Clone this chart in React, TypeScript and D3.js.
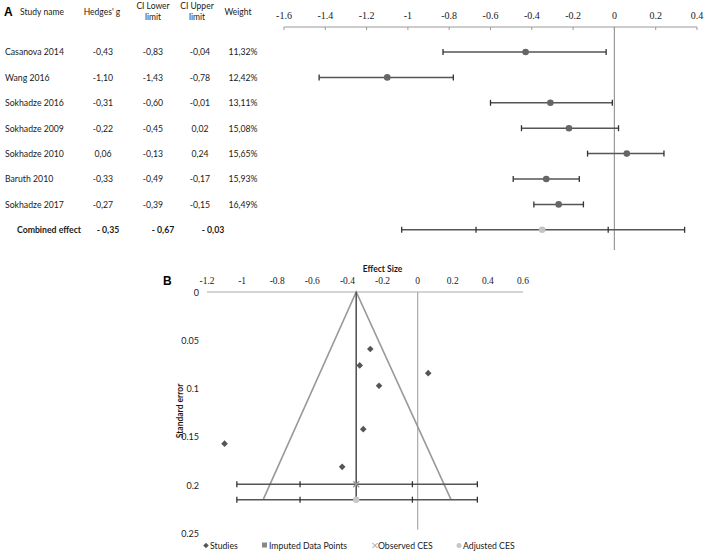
import React from "react";
import * as d3 from "d3";

const studyNames = ["Casanova 2014", "Wang 2016", "Sokhadze 2016", "Sokhadze 2009", "Sokhadze 2010", "Baruth 2010", "Sokhadze 2017"];
const hedgesG = [-0.43, -1.10, -0.31, -0.22, 0.06, -0.33, -0.27];
const ciLower = [-0.83, -1.43, -0.60, -0.45, -0.13, -0.49, -0.39];
const ciUpper = [-0.04, -0.78, -0.01, 0.02, 0.24, -0.17, -0.15];
const weights = ["11,32%", "12,42%", "13,11%", "15,08%", "15,65%", "15,93%", "16,49%"];
const combinedG = -0.35;
const combinedLower = -0.67;
const combinedUpper = -0.03;
const predLower = -1.03;
const predUpper = 0.34;
const combinedLabels = ["- 0,35", "- 0,67", "- 0,03"];
const forestTicks = [-1.6, -1.4, -1.2, -1, -0.8, -0.6, -0.4, -0.2, 0, 0.2, 0.4];

const funnelEffects = [-0.27, -0.33, 0.06, -0.22, -0.31, -1.10, -0.43];
const funnelSE = [0.059, 0.076, 0.084, 0.097, 0.142, 0.157, 0.181];
const observedSE = 0.199;
const adjustedSE = 0.215;
const funnelBottomSE = 0.215;
const funnelLeft = -0.88;
const funnelRight = 0.19;
const funnelXTicks = [-1.2, -1, -0.8, -0.6, -0.4, -0.2, 0, 0.2, 0.4, 0.6];
const funnelYTicks = [0, 0.05, 0.1, 0.15, 0.2, 0.25];
const legendItems = ["Studies", "Imputed Data Points", "Observed CES", "Adjusted CES"];

const sans = "Lato, 'Open Sans', sans-serif";
const serif = "'Liberation Serif', 'DejaVu Serif', serif";
const dark = "#555";
const ink = "#1a1a1a";

export default function App() {
  const xA = d3.scaleLinear().domain([-1.6, 0.4]).range([284, 697]);
  const yA = d3.scaleLinear().domain([0, 1]).range([52, 77.4]);
  const xB = d3.scaleLinear().domain([-1.2, 0.6]).range([207, 523]);
  const yB = d3.scaleLinear().domain([0, 0.25]).range([292, 533.5]);
  const fmt = (v: number) => (Math.round(v * 10) / 10).toString();

  const bar = (y: number, lo: number, hi: number, extraTicks: number[], key: string, x: any) => (
    <g key={key}>
      <line x1={x(lo)} x2={x(hi)} y1={y} y2={y} stroke={dark} strokeWidth={1.5} />
      {[lo, hi, ...extraTicks].map((t, i) => (
        <line key={i} x1={x(t)} x2={x(t)} y1={y - 3} y2={y + 3} stroke="#333" strokeWidth={1.3} />
      ))}
    </g>
  );

  const diamond = (cx: number, cy: number, r: number, fill: string, key: any) => (
    <path key={key} d={`M${cx},${cy - r}L${cx + r},${cy}L${cx},${cy + r}L${cx - r},${cy}Z`} fill={fill} />
  );

  const colX = { g: 103, lo: 153, hi: 200, w: 243 };

  return (
    <svg width={708} height={555} style={{ position: "absolute", left: 0, top: 0, background: "#fff" }}>
      {/* Panel A */}
      <text x={4} y={16} fontFamily="Arial, sans-serif" fontWeight="bold" fontSize={12}>A</text>
      <g fontFamily={sans} fontSize={8.5} fill={ink}>
        <text x={42} y={15} textAnchor="middle">Study name</text>
        <text x={102} y={15} textAnchor="middle">Hedges' g</text>
        <text x={153} y={9} textAnchor="middle">CI Lower</text>
        <text x={153} y={20} textAnchor="middle">limit</text>
        <text x={197} y={9} textAnchor="middle">CI Upper</text>
        <text x={197} y={20} textAnchor="middle">limit</text>
        <text x={238} y={15} textAnchor="middle">Weight</text>
      </g>
      <g fontFamily={sans} fontSize={8.7} fill={ink}>
        {studyNames.map((n, i) => (
          <g key={n}>
            <text x={5} y={yA(i) + 3.3}>{n}</text>
            <text x={colX.g} y={yA(i) + 3.3} textAnchor="middle">{hedgesG[i].toFixed(2).replace(".", ",")}</text>
            <text x={colX.lo} y={yA(i) + 3.3} textAnchor="middle">{ciLower[i].toFixed(2).replace(".", ",")}</text>
            <text x={colX.hi} y={yA(i) + 3.3} textAnchor="middle">{ciUpper[i].toFixed(2).replace(".", ",")}</text>
            <text x={colX.w} y={yA(i) + 3.3} textAnchor="middle">{weights[i]}</text>
          </g>
        ))}
        <g fontWeight="bold">
          <text x={17} y={yA(7) + 3.3}>Combined effect</text>
          <text x={108} y={yA(7) + 3.3} textAnchor="middle">{combinedLabels[0]}</text>
          <text x={163} y={yA(7) + 3.3} textAnchor="middle">{combinedLabels[1]}</text>
          <text x={213} y={yA(7) + 3.3} textAnchor="middle">{combinedLabels[2]}</text>
        </g>
      </g>
      <line x1={xA(-1.6)} x2={xA(0.4)} y1={27} y2={27} stroke="#999" strokeWidth={1} />
      {forestTicks.map((t) => (
        <g key={t}>
          <line x1={xA(t)} x2={xA(t)} y1={27} y2={30} stroke="#999" />
          <text x={xA(t)} y={19} textAnchor="middle" fontFamily={serif} fontSize={10} fill={ink}>{fmt(t)}</text>
        </g>
      ))}
      <line x1={xA(0)} x2={xA(0)} y1={27} y2={250} stroke="#999" strokeWidth={1.2} />
      {hedgesG.map((g, i) => (
        <g key={i}>
          {bar(yA(i), ciLower[i], ciUpper[i], [], "b" + i, xA)}
          <circle cx={xA(g)} cy={yA(i)} r={3.3} fill="#666" />
        </g>
      ))}
      {bar(yA(7), predLower, predUpper, [combinedLower, combinedUpper], "comb", xA)}
      <circle cx={xA(combinedG)} cy={yA(7)} r={3.3} fill="#c4c4c4" />

      {/* Panel B */}
      <text x={163} y={285} fontFamily="Arial, sans-serif" fontWeight="bold" fontSize={12}>B</text>
      <text x={xB(-0.2)} y={272} textAnchor="middle" fontFamily={sans} fontWeight="bold" fontSize={8.5} fill={ink}>Effect Size</text>
      {funnelXTicks.map((t) => (
        <text key={t} x={xB(t)} y={284} textAnchor="middle" fontFamily={serif} fontSize={9.5} fill={ink}>{fmt(t)}</text>
      ))}
      {funnelYTicks.map((t) => (
        <text key={t} x={199} y={yB(t) + 3.5} textAnchor="end" fontFamily={sans} fontSize={9} fill={ink}>{t.toString()}</text>
      ))}
      <text transform={`translate(183,411) rotate(-90)`} textAnchor="middle" fontFamily={sans} fontWeight="bold" fontSize={8.5} fill={ink}>Standard error</text>
      <line x1={xB(-1.2)} x2={xB(0.6)} y1={yB(0)} y2={yB(0)} stroke="#aaa" strokeWidth={1.2} />
      <line x1={xB(0)} x2={xB(0)} y1={yB(0)} y2={yB(0.246)} stroke="#aaa" strokeWidth={1.2} />
      <path
        d={`M${xB(funnelLeft)},${yB(funnelBottomSE)}L${xB(combinedG)},${yB(0)}L${xB(funnelRight)},${yB(funnelBottomSE)}`}
        fill="none" stroke="#999" strokeWidth={1.6}
      />
      <line x1={xB(combinedG)} x2={xB(combinedG)} y1={yB(0)} y2={yB(adjustedSE)} stroke={dark} strokeWidth={1.6} />
      {bar(yB(observedSE), predLower, predUpper, [combinedLower, combinedUpper], "obs", xB)}
      {bar(yB(adjustedSE), predLower, predUpper, [combinedLower, combinedUpper], "adj", xB)}
      {funnelEffects.map((e, i) => diamond(xB(e), yB(funnelSE[i]), 3.3, "#555", i))}
      <g transform={`translate(${xB(combinedG)},${yB(observedSE)})`} stroke="#999" strokeWidth={1.3}>
        <line x1={-3} x2={3} y1={-3} y2={3} />
        <line x1={-3} x2={3} y1={3} y2={-3} />
      </g>
      <circle cx={xB(combinedG)} cy={yB(adjustedSE)} r={3.2} fill="#c8c8c8" />

      {/* Legend */}
      <g fontFamily={sans} fontSize={8.7} fill={ink}>
        {diamond(206, 545.5, 2.8, "#555", "ld")}
        <text x={210} y={548.5}>{legendItems[0]}</text>
        <rect x={262} y={542.5} width={5} height={5} fill="#888" />
        <text x={269} y={548.5}>{legendItems[1]}</text>
        <g transform="translate(375,545.5)" stroke="#999" strokeWidth={1}>
          <line x1={-2.5} x2={2.5} y1={-2.5} y2={2.5} />
          <line x1={-2.5} x2={2.5} y1={2.5} y2={-2.5} />
        </g>
        <text x={378} y={548.5}>{legendItems[2]}</text>
        <circle cx={459} cy={545.5} r={2.5} fill="#c8c8c8" />
        <text x={463} y={548.5}>{legendItems[3]}</text>
      </g>
    </svg>
  );
}
